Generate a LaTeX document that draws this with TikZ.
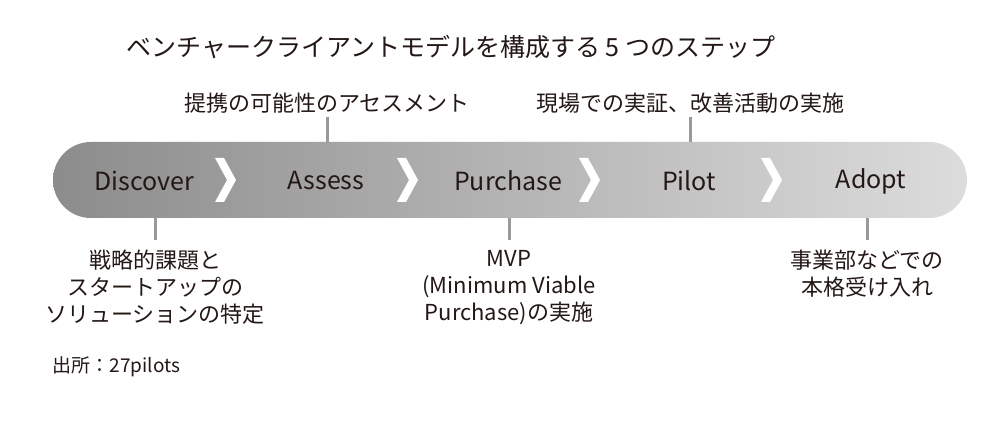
\documentclass[tikz,border=0pt]{standalone}
\usepackage{fontspec}
\setmainfont{Noto Sans CJK JP}
\usetikzlibrary{positioning, calc}
\definecolor{inkblack}{HTML}{231815}
\definecolor{barleft}{HTML}{8C8C8C}
\definecolor{barright}{HTML}{DCDCDC}
\definecolor{linegray}{HTML}{9A9A9A}

\begin{document}
\begin{tikzpicture}[
    x=1pt, y=1pt,
    every node/.style={text=inkblack},
    stage/.style={font=\fontsize{25}{30}\selectfont},
    note/.style={font=\fontsize{22}{27}\selectfont, align=center, inner sep=3pt},
    leader/.style={linegray, line width=3pt},
  ]

  % Canvas
  \useasboundingbox (0,0) rectangle (1000,425);
  \fill[white] (0,0) rectangle (1000,425);

  % === Title ===
  \node[font=\fontsize{25}{30}\selectfont, anchor=west] (title) at (123,378)
    {ベンチャークライアントモデルを構成する 5 つのステップ};

  % === Process bar ===
  \node[shade, left color=barleft, right color=barright, rounded corners=38pt,
    minimum width=914pt, minimum height=76pt, inner sep=0pt] (bar) at (510,245) {};

  % Stages
  \node[stage] (discover) at (144,244) {Discover};
  \node[stage] (assess)   at (326,244) {Assess};
  \node[stage] (purchase) at (508,244) {Purchase};
  \node[stage] (pilot)    at (689,244) {Pilot};
  \node[stage] (adopt)    at (871,244) {Adopt};

  % Chevrons between stages
  \fill[white] (215,267) -- (224,267) -- (236,245) -- (224,223) -- (215,223) -- (227,245) -- cycle;
  \fill[white, shift={(182,0)}] (215,267) -- (224,267) -- (236,245) -- (224,223) -- (215,223) -- (227,245) -- cycle;
  \fill[white, shift={(364,0)}] (215,267) -- (224,267) -- (236,245) -- (224,223) -- (215,223) -- (227,245) -- cycle;
  \fill[white, shift={(546,0)}] (215,267) -- (224,267) -- (236,245) -- (224,223) -- (215,223) -- (227,245) -- cycle;

  % === Notes above the bar ===
  \node[note, anchor=south] (assessnote) at (327,308) {提携の可能性のアセスメント};
  \node[note, anchor=south] (pilotnote)  at (690,308) {現場での実証、改善活動の実施};
  \draw[leader] (assessnote.south) -- (assessnote.south |- bar.north);
  \draw[leader] (pilotnote.south) -- (pilotnote.south |- bar.north);

  % === Notes below the bar ===
  \node[note, inner ysep=10pt, anchor=north] (discovernote) at (155,185)
    {戦略的課題と\\スタートアップの\\ソリューションの特定};
  \node[note, inner ysep=10pt, anchor=north] (purchasenote) at (509,185)
    {MVP\\(Minimum Viable\\Purchase)の実施};
  \node[note, inner ysep=10pt, anchor=north] (adoptnote) at (867,185)
    {事業部などでの\\本格受け入れ};
  \draw[leader] (bar.south -| discovernote.north) -- (discovernote.north);
  \draw[leader] (bar.south -| purchasenote.north) -- (purchasenote.north);
  \draw[leader] (bar.south -| adoptnote.north) -- (adoptnote.north);

  % === Source ===
  \node[font=\fontsize{19}{22}\selectfont, anchor=west] (source) at (49,58) {出所：27pilots};

\end{tikzpicture}
\end{document}
